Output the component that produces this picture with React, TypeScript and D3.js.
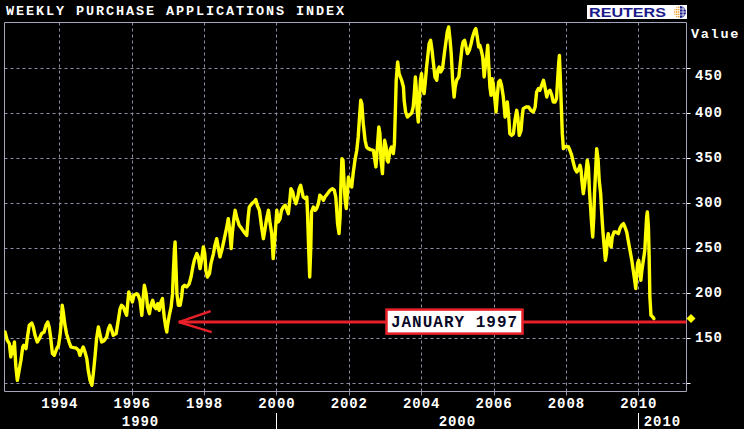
import React from 'react';
import * as d3 from 'd3';

// ---- data (decimal year, index value) ----
const years: number[] = [
  1992.50, 1992.56, 1992.62, 1992.66, 1992.70, 1992.73, 1992.76, 1992.80, 1992.84, 1992.89,
  1992.94, 1992.99, 1993.02, 1993.08, 1993.12, 1993.17, 1993.24, 1993.28, 1993.33, 1993.39,
  1993.45, 1993.51, 1993.58, 1993.63, 1993.68, 1993.72, 1993.76, 1993.81, 1993.86, 1993.93,
  1993.98, 1994.02, 1994.06, 1994.08, 1994.11, 1994.15, 1994.20, 1994.27, 1994.32, 1994.39,
  1994.46, 1994.53, 1994.57, 1994.62, 1994.66, 1994.71, 1994.76, 1994.80, 1994.85, 1994.90,
  1994.94, 1994.99, 1995.03, 1995.08, 1995.12, 1995.17, 1995.23, 1995.31, 1995.36, 1995.40,
  1995.45, 1995.49, 1995.57, 1995.63, 1995.68, 1995.72, 1995.77, 1995.82, 1995.86, 1995.89,
  1995.92, 1995.97, 1996.02, 1996.06, 1996.14, 1996.18, 1996.23,
  1996.28, 1996.32, 1996.35, 1996.40, 1996.44, 1996.49, 1996.53, 1996.58, 1996.63, 1996.67,
  1996.72, 1996.76, 1996.81, 1996.85, 1996.87, 1996.90, 1996.94, 1996.97, 1996.99, 1997.04,
  1997.09, 1997.13, 1997.15, 1997.18, 1997.20, 1997.22, 1997.25, 1997.29, 1997.34, 1997.38,
  1997.41, 1997.46, 1997.52, 1997.59, 1997.64, 1997.69, 1997.73, 1997.80, 1997.84, 1997.89,
  1997.93, 1997.98, 1998.02, 1998.05, 1998.09, 1998.15, 1998.19, 1998.26, 1998.30, 1998.35,
  1998.39, 1998.44, 1998.49, 1998.55, 1998.63, 1998.67, 1998.70, 1998.75, 1998.78, 1998.83,
  1998.86, 1998.90, 1998.97, 1999.04, 1999.10, 1999.18, 1999.22, 1999.25, 1999.32, 1999.38,
  1999.43, 1999.47, 1999.53, 1999.59, 1999.64, 1999.68, 1999.73, 1999.78, 1999.82, 1999.87,
  1999.91, 1999.96, 2000.01,
  2000.05, 2000.10, 2000.14, 2000.19, 2000.24, 2000.28, 2000.33, 2000.37, 2000.40, 2000.45,
  2000.49, 2000.54, 2000.59, 2000.63, 2000.67, 2000.71, 2000.74, 2000.80, 2000.84, 2000.86,
  2000.89, 2000.92, 2000.95, 2000.97, 2001.02, 2001.07, 2001.11, 2001.16, 2001.20, 2001.25,
  2001.30, 2001.34, 2001.41, 2001.48, 2001.55, 2001.60, 2001.64, 2001.66, 2001.69, 2001.73,
  2001.76, 2001.78, 2001.81, 2001.84, 2001.87, 2001.90, 2001.93, 2001.96, 2001.99, 2002.03,
  2002.08, 2002.12, 2002.17, 2002.22, 2002.26, 2002.29, 2002.33, 2002.36, 2002.40, 2002.45,
  2002.49, 2002.54, 2002.60, 2002.68, 2002.72, 2002.75, 2002.79, 2002.83, 2002.86, 2002.89,
  2002.93, 2002.95, 2002.99, 2003.03, 2003.06, 2003.09, 2003.14, 2003.18, 2003.23, 2003.26,
  2003.29, 2003.31, 2003.35, 2003.39,
  2003.46, 2003.51, 2003.53, 2003.57, 2003.62, 2003.67, 2003.74, 2003.78, 2003.81, 2003.84,
  2003.86, 2003.89, 2003.92, 2003.95, 2003.98, 2004.01, 2004.04, 2004.08, 2004.11, 2004.15,
  2004.19, 2004.22, 2004.26, 2004.30, 2004.34, 2004.38, 2004.43, 2004.46, 2004.50, 2004.54,
  2004.59, 2004.64, 2004.69, 2004.72, 2004.76, 2004.80, 2004.83, 2004.87, 2004.91, 2004.94,
  2004.98, 2005.04, 2005.09, 2005.13, 2005.16, 2005.20, 2005.24, 2005.28, 2005.33, 2005.38,
  2005.42, 2005.48, 2005.51, 2005.55, 2005.59, 2005.62, 2005.66, 2005.70, 2005.74, 2005.77,
  2005.81, 2005.84, 2005.87, 2005.90, 2005.93, 2005.96, 2005.99, 2006.03, 2006.07, 2006.10,
  2006.14, 2006.18, 2006.22, 2006.27, 2006.32, 2006.34, 2006.38, 2006.42, 2006.45, 2006.50,
  2006.55, 2006.59, 2006.64, 2006.67, 2006.71, 2006.76, 2006.79, 2006.82, 2006.90, 2006.97,
  2007.03, 2007.10, 2007.15, 2007.19, 2007.24, 2007.28, 2007.33, 2007.38, 2007.42, 2007.47,
  2007.51, 2007.56,
  2007.61, 2007.65, 2007.70, 2007.74, 2007.77, 2007.80, 2007.82, 2007.84, 2007.87, 2007.90,
  2007.93, 2007.97, 2008.02, 2008.07, 2008.11, 2008.16, 2008.20, 2008.25, 2008.30, 2008.34,
  2008.39, 2008.42, 2008.44, 2008.48, 2008.52, 2008.55, 2008.59, 2008.62, 2008.65, 2008.68,
  2008.71, 2008.74, 2008.77, 2008.79, 2008.83, 2008.85, 2008.89, 2008.92, 2008.96, 2008.99,
  2009.02, 2009.05, 2009.09, 2009.12, 2009.14, 2009.17, 2009.21, 2009.25, 2009.28, 2009.33,
  2009.38, 2009.45, 2009.49, 2009.54, 2009.59, 2009.63, 2009.68, 2009.72, 2009.77, 2009.82,
  2009.86, 2009.90, 2009.93, 2009.95, 2009.98, 2010.01, 2010.05, 2010.07, 2010.10, 2010.14,
  2010.18, 2010.20, 2010.23, 2010.25, 2010.28, 2010.30, 2010.32, 2010.35, 2010.40, 2010.43,
];

const values: number[] = [
  157.0, 147.8, 144.1, 129.3, 140.4, 133.0, 145.9, 118.2, 103.3, 114.4,
  125.6, 140.4, 142.2, 138.5, 151.5, 164.4, 167.0, 162.6, 153.3, 145.9,
  149.6, 155.2, 157.0, 164.4, 168.2, 162.6, 151.5, 133.0, 131.1, 138.5,
  142.2, 153.3, 170.0, 186.7, 179.3, 166.3, 155.2, 145.9, 140.4, 139.6,
  139.3, 136.7, 131.1, 136.7, 140.4, 134.8, 127.4, 114.4, 103.3, 97.8,
  110.7, 131.1, 149.6, 162.6, 155.2, 145.9, 147.0, 151.5, 160.7, 164.4,
  158.9, 153.3, 155.2, 170.0, 183.0, 186.7, 184.8, 179.3, 175.6, 188.5,
  201.5, 195.9, 190.4, 197.8, 199.6, 197.8, 192.2,
  175.6, 195.9, 208.9, 199.6, 184.8, 177.4, 186.7, 192.2, 184.8, 183.0,
  188.5, 181.1, 190.4, 194.1, 184.8, 173.7, 162.6, 157.0, 164.4, 175.6,
  184.8, 199.6, 221.9, 247.8, 257.0, 233.0, 199.6, 186.7, 186.7, 195.9,
  207.0, 208.9, 207.0, 210.7, 218.1, 229.3, 236.7, 244.1, 240.4, 227.4,
  236.7, 251.5, 244.1, 225.6, 218.1, 221.9, 233.0, 244.1, 253.3, 260.7,
  251.5, 240.4, 247.8, 258.9, 273.7, 283.0, 273.7, 249.6, 266.3, 284.8,
  292.2, 284.8, 275.6, 271.9, 268.2, 264.4, 284.8, 295.9, 299.6, 301.5,
  304.1, 297.8, 292.2, 273.7, 260.7, 270.0, 283.0, 292.2, 279.3, 266.3,
  238.5, 262.6, 292.2,
  279.3, 283.0, 292.2, 295.9, 297.8, 294.1, 288.5, 303.3, 316.3, 312.6,
  305.2, 299.6, 307.0, 316.3, 320.0, 312.6, 307.0, 305.2, 307.0, 288.5,
  251.5, 218.1, 251.5, 290.4, 295.9, 292.2, 294.1, 299.6, 308.9, 307.0,
  303.3, 307.0, 310.7, 314.4, 316.3, 314.4, 307.0, 295.9, 277.4, 266.3,
  284.8, 318.1, 349.6, 347.8, 321.8, 303.3, 294.1, 310.7, 329.3, 321.8,
  318.1, 333.0, 347.8, 358.9, 373.7, 392.2, 414.5, 410.7, 388.5, 370.0,
  362.6, 360.7, 359.6, 358.9, 347.8, 340.4, 362.6, 384.8, 377.4, 347.8,
  333.0, 351.5, 370.0, 362.6, 347.8, 345.9, 358.9, 362.6, 355.2, 366.3,
  407.0, 436.7, 457.0, 444.1,
  436.7, 429.3, 414.4, 401.5, 395.9, 397.8, 400.4, 407.0, 421.9, 440.4,
  429.3, 403.3, 390.4, 414.4, 436.7, 444.1, 429.3, 421.9, 433.0, 451.5,
  466.3, 477.4, 481.1, 470.0, 455.2, 440.4, 436.7, 447.8, 451.5, 445.9,
  449.6, 466.3, 481.1, 490.4, 495.9, 481.1, 466.3, 436.7, 418.1, 429.3,
  436.7, 440.4, 458.9, 473.7, 479.3, 481.1, 473.7, 466.3, 470.0, 477.4,
  484.8, 492.2, 494.1, 484.8, 473.7, 475.6, 470.0, 462.6, 440.4, 451.5,
  462.6, 475.6, 451.5, 429.3, 420.0, 438.5, 433.0, 418.1, 401.5, 418.1,
  434.8, 436.7, 431.1, 418.1, 395.9, 403.3, 412.6, 395.9, 377.4, 375.5,
  377.4, 392.2, 403.3, 395.9, 375.5, 381.1, 395.9, 405.2, 407.0, 407.0,
  403.3, 401.5, 407.0, 423.7, 427.4, 425.6, 431.1, 436.7, 429.3, 418.1,
  423.7, 425.6,
  420.0, 412.6, 412.6, 416.3, 436.7, 455.2, 464.4, 444.1, 410.7, 377.4,
  360.7, 362.6, 363.3, 362.6, 358.9, 353.3, 345.9, 338.5, 334.8, 336.7,
  342.2, 336.7, 325.6, 310.7, 321.9, 333.0, 347.8, 340.4, 314.4, 295.9,
  277.4, 262.6, 284.8, 310.7, 344.1, 360.7, 347.8, 325.6, 310.7, 288.5,
  270.0, 255.2, 236.7, 244.1, 258.9, 266.3, 255.2, 251.5, 262.6, 268.1,
  268.1, 266.3, 271.8, 275.5, 277.4, 273.7, 268.1, 258.9, 247.8, 236.7,
  225.6, 214.4, 205.2, 218.1, 233.0, 236.7, 225.6, 214.4, 225.6, 236.7,
  247.8, 262.6, 284.8, 290.4, 273.7, 240.4, 195.9, 175.5, 173.7, 171.8,
];

const xTicks: number[] = [1994, 1996, 1998, 2000, 2002, 2004, 2006, 2008, 2010];
const yTicks: number[] = [100, 150, 200, 250, 300, 350, 400, 450];
const yTickLabels: string[] = ['', '150', '200', '250', '300', '350', '400', '450'];
const decadeStarts: number[] = [1990, 2000, 2010];
const decadeLabels: string[] = ['1990', '2000', '2010'];

const titleText = 'WEEKLY PURCHASE APPLICATIONS INDEX';
const axisTitle = 'Value';
const annotationLabel = 'JANUARY 1997';
const annotationValue = 168;
const annotationArrowYear = 1997.3;
const lastMarkerValue = 172;

const W = 744;
const H = 429;
const PL = 4.5, PR = 686.5, PT = 22.5, PB = 391.5;

const MONO = '"Liberation Mono", "DejaVu Sans Mono", monospace';

export default function App() {
  const x = d3.scaleLinear().domain([1994, 2010]).range([59.3, 638.3]);
  const y = d3.scaleLinear().domain([100, 450]).range([383.3, 68.3]);

  const pts: [number, number][] = years.map((yr, i) => [yr, values[i]]);
  const line = d3.line<[number, number]>().x(d => x(d[0])).y(d => y(d[1]));

  const gridCol = '#8e8ea6';
  const borderCol = '#a4a4ba';
  const red = '#e8202a';

  const annY = y(annotationValue);
  const tipX = x(annotationArrowYear);
  const boxX = 386.5, boxW = 136, boxH = 24;

  const decadeBounds = decadeStarts.map((d, i) => {
    const a = Math.max(PL, x(d));
    const b = i < decadeStarts.length - 1 ? x(decadeStarts[i + 1]) : PR;
    return { a, b, label: decadeLabels[i], sep: x(d) > PL };
  });

  const lastY = y(lastMarkerValue);

  return (
    <svg width={W} height={H} style={{ position: 'fixed', left: 0, top: 0, background: '#000', display: 'block' }}>
      <rect x={0} y={0} width={W} height={H} fill="#000" />
      <defs>
        <clipPath id="plotclip">
          <rect x={PL} y={PT} width={PR - PL} height={PB - PT} />
        </clipPath>
        <clipPath id="globeclip">
          <circle cx={680} cy={12} r={6} />
        </clipPath>
      </defs>

      {/* title */}
      <text x={6} y={15} fill="#fff" fontFamily={MONO} fontWeight="bold" fontSize={13.5} letterSpacing={1.9}>
        {titleText}
      </text>

      {/* Reuters logo */}
      <rect x={587} y={5} width={100} height={14} fill="#fff" />
      <text x={589} y={17} fill="#1a1a8a" fontFamily='"Liberation Sans", Arial, sans-serif' fontWeight="bold"
        fontSize={13.5} textLength={77} lengthAdjust="spacingAndGlyphs">REUTERS</text>
      <g clipPath="url(#globeclip)">
        <rect x={673} y={5} width={7} height={14} fill="#fff" />
        {[0, 1, 2, 3, 4].map(r => [0, 1, 2].map(c => (
          <rect key={`d${r}${c}`} x={674 + c * 2} y={6.5 + r * 2.4} width={1.4} height={1.4} fill="#f29a1f" />
        )))}
        <rect x={680} y={5} width={8} height={14} fill="#1a1a8a" />
        <line x1={680} y1={9} x2={687} y2={9} stroke="#fff" strokeWidth={0.8} />
        <line x1={680} y1={12} x2={687} y2={12} stroke="#fff" strokeWidth={0.8} />
        <line x1={680} y1={15} x2={687} y2={15} stroke="#fff" strokeWidth={0.8} />
        <line x1={683} y1={5} x2={683} y2={19} stroke="#fff" strokeWidth={0.8} />
      </g>

      {/* grid */}
      {xTicks.map(t => (
        <g key={`gx${t}`}>
          <line x1={Math.round(x(t)) + 0.5} x2={Math.round(x(t)) + 0.5} y1={PT} y2={PB} stroke={gridCol} strokeDasharray="3,3" />
          <line x1={Math.round(x(t)) + 0.5} x2={Math.round(x(t)) + 0.5} y1={PB} y2={PB + 4} stroke={gridCol} />
        </g>
      ))}
      {yTicks.map(t => (
        <g key={`gy${t}`}>
          <line x1={PL} x2={PR} y1={Math.round(y(t)) + 0.5} y2={Math.round(y(t)) + 0.5} stroke={gridCol} strokeDasharray="3,3" />
          <line x1={PR} x2={PR + 4} y1={Math.round(y(t)) + 0.5} y2={Math.round(y(t)) + 0.5} stroke="#fff" />
        </g>
      ))}

      {/* border */}
      <path d={`M${PL},${PB}V${PT}H${PR}V${PB}H${PL}`} fill="none" stroke={borderCol} strokeWidth={1} />

      {/* series */}
      <path d={line(pts) || ''} fill="none" stroke="#ffff00" strokeWidth={3.4} strokeLinejoin="round" strokeLinecap="round"
        clipPath="url(#plotclip)" />

      {/* annotation */}
      <line x1={tipX} x2={PR} y1={annY} y2={annY} stroke={red} strokeWidth={3} />
      <line x1={tipX} y1={annY} x2={tipX + 32} y2={annY - 11} stroke={red} strokeWidth={2.5} />
      <line x1={tipX} y1={annY} x2={tipX + 33} y2={annY + 10} stroke={red} strokeWidth={2.5} />
      <rect x={boxX} y={annY - 12.5} width={boxW} height={boxH} fill="#fff" stroke={red} strokeWidth={2.5} />
      <text x={boxX + boxW / 2} y={annY + 5} textAnchor="middle" fill="#0a0a28" fontFamily={MONO}
        fontWeight="bold" fontSize={16} letterSpacing={1}>{annotationLabel}</text>

      {/* last value marker */}
      <path d={`M691,${lastY - 4.5}L695.5,${lastY}L691,${lastY + 4.5}L686.5,${lastY}Z`} fill="#ffff00" />

      {/* right axis */}
      <text x={691} y={38} fill="#fff" fontFamily={MONO} fontWeight="bold" fontSize={13.5} letterSpacing={1.7}>{axisTitle}</text>
      {yTicks.map((t, i) => yTickLabels[i] ? (
        <text key={`yl${t}`} x={695} y={t === 450 ? 79.5 : y(t) + 3.5} fill="#fff" fontFamily={MONO}
          fontWeight="bold" fontSize={14} letterSpacing={0.9}>{yTickLabels[i]}</text>
      ) : null)}

      {/* bottom axis */}
      {xTicks.map(t => (
        <text key={`xl${t}`} x={x(t) + 0.5} y={408} textAnchor="middle" fill="#fff" fontFamily={MONO}
          fontWeight="bold" fontSize={14} letterSpacing={0.9}>{t}</text>
      ))}
      {decadeBounds.map(d => (
        <g key={`dec${d.label}`}>
          {d.sep && <line x1={Math.round(d.a) + 0.5} x2={Math.round(d.a) + 0.5} y1={413} y2={H} stroke="#fff" />}
          <text x={(d.a + d.b) / 2} y={425.5} textAnchor="middle" fill="#fff" fontFamily={MONO}
            fontWeight="bold" fontSize={14} letterSpacing={0.9}>{d.label}</text>
        </g>
      ))}
    </svg>
  );
}
